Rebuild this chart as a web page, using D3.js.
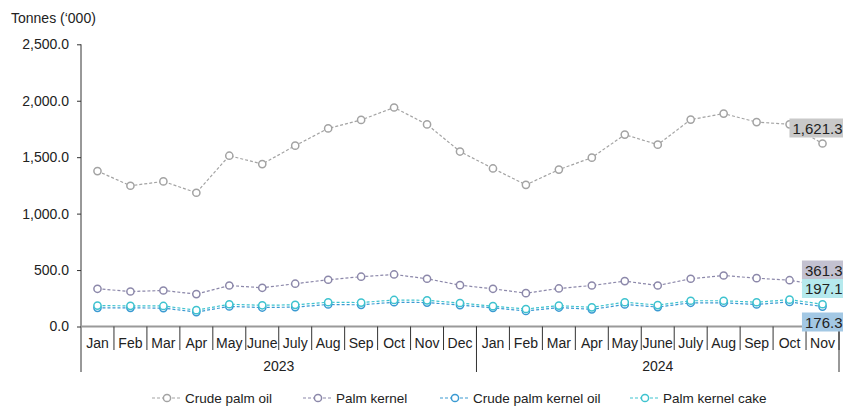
<!DOCTYPE html>
<html>
<head>
<meta charset="utf-8">
<script src="https://cdn.jsdelivr.net/npm/d3@7"></script>
<style>
  body { margin: 0; background: #fff; }
  svg { display: block; font-family: "Liberation Sans", Arial, sans-serif; }
</style>
</head>
<body>
<svg id="chart"></svg>
<script>
const months = ["Jan","Feb","Mar","Apr","May","June","July","Aug","Sep","Oct","Nov","Dec",
                "Jan","Feb","Mar","Apr","May","June","July","Aug","Sep","Oct","Nov"];
const years = [{ label: "2023", count: 12 }, { label: "2024", count: 11 }];
const yTicks = [0, 500, 1000, 1500, 2000, 2500];

const crudePalmOil = [1377,1247,1285,1185,1513,1439,1602,1755,1830,1940,1790,1550,
                      1400,1255,1390,1496,1700,1611,1833,1886,1811,1791,1621.3];
const palmKernel = [334,310,319,287,363,343,379,414,441,461,423,366,
                    334,295,337,363,402,363,423,452,428,410,361.3];
const crudePalmKernelOil = [165,165,163,128,178,168,172,195,192,215,212,190,
                            165,138,168,152,195,172,210,210,195,218,176.3];
const palmKernelCake = [185,183,182,145,197,188,192,215,212,235,232,208,
                        180,155,185,170,215,190,228,228,215,238,197.1];

const series = [
  { name: "Crude palm oil", values: crudePalmOil, color: "#a3a3a3", box: "#c9c9c9", labelY: 128 },
  { name: "Palm kernel", values: palmKernel, color: "#8c88aa", box: "#c3c1d0", labelY: 270 },
  { name: "Crude palm kernel oil", values: crudePalmKernelOil, color: "#3a9ad2", box: "#a3c8e4", labelY: 322 },
  { name: "Palm kernel cake", values: palmKernelCake, color: "#3ec3cf", box: "#b5e9ed", labelY: 288.5 }
];

const width = 843, height = 406;
const margin = { left: 81 };
const svg = d3.select("#chart").attr("width", width).attr("height", height);

const x = d3.scaleBand()
  .domain(d3.range(months.length))
  .range([margin.left, 839]);
const y = d3.scaleLinear()
  .domain([0, 2500])
  .range([326.5, 44.3]);

// y axis
svg.append("text")
  .attr("x", 11).attr("y", 23)
  .attr("font-size", 14).attr("fill", "#222")
  .text("Tonnes (\u2018000)");

const yAxis = svg.append("g")
  .attr("transform", `translate(${margin.left},0)`)
  .call(d3.axisLeft(y).tickValues(yTicks).tickSize(4).tickPadding(8)
    .tickFormat(d3.format(",.1f")));
yAxis.select(".domain").remove();
yAxis.selectAll(".tick line").attr("stroke", "#333");
yAxis.selectAll("text").attr("font-size", 14).attr("fill", "#222")
  .attr("font-family", "Liberation Sans, Arial, sans-serif");
svg.append("line")
  .attr("x1", margin.left).attr("x2", margin.left)
  .attr("y1", y(2500)).attr("y2", 372)
  .attr("stroke", "#333");

// x axis (month + year levels)
svg.append("line")
  .attr("x1", margin.left).attr("x2", x.range()[1])
  .attr("y1", y(0)).attr("y2", y(0))
  .attr("stroke", "#9a9a9a").attr("stroke-width", 2);

const xg = svg.append("g");
xg.selectAll("line.sep")
  .data(d3.range(1, months.length + 1))
  .join("line")
  .attr("class", "sep")
  .attr("x1", i => x(i - 1) + x.bandwidth())
  .attr("x2", i => x(i - 1) + x.bandwidth())
  .attr("y1", y(0)).attr("y2", 350)
  .attr("stroke", "#333");
xg.selectAll("text.month")
  .data(months)
  .join("text")
  .attr("class", "month")
  .attr("x", (d, i) => x(i) + x.bandwidth() / 2)
  .attr("y", 348)
  .attr("text-anchor", "middle")
  .attr("font-size", 14).attr("fill", "#222")
  .text(d => d);

let start = 0;
years.forEach(yr => {
  const x0 = x(start), x1 = x(start + yr.count - 1) + x.bandwidth();
  xg.append("line")
    .attr("x1", x1).attr("x2", x1)
    .attr("y1", y(0)).attr("y2", 372)
    .attr("stroke", "#333");
  xg.append("text")
    .attr("x", (x0 + x1) / 2).attr("y", 371)
    .attr("text-anchor", "middle")
    .attr("font-size", 14).attr("fill", "#222")
    .text(yr.label);
  start += yr.count;
});

// lines
const line = d3.line()
  .x((d, i) => x(i) + x.bandwidth() / 2)
  .y(d => y(d));

series.forEach(s => {
  const g = svg.append("g");
  g.append("path")
    .datum(s.values)
    .attr("fill", "none")
    .attr("stroke", s.color)
    .attr("stroke-width", 1.2)
    .attr("stroke-dasharray", "3,2")
    .attr("d", line);
  g.selectAll("circle")
    .data(s.values)
    .join("circle")
    .attr("cx", (d, i) => x(i) + x.bandwidth() / 2)
    .attr("cy", d => y(d))
    .attr("r", 3.6)
    .attr("fill", "#fff")
    .attr("stroke", s.color)
    .attr("stroke-width", 1.5);
});

// end labels
const fmt = d3.format(",.1f");
series.forEach(s => {
  const v = s.values[s.values.length - 1];
  const rect = svg.append("rect");
  const txt = svg.append("text")
    .attr("y", s.labelY + 5.5)
    .attr("font-size", 15).attr("fill", "#222")
    .text(fmt(v));
  const w = txt.node().getComputedTextLength();
  const tx = 842.5 - w;
  txt.attr("x", tx);
  rect.attr("x", tx - 3).attr("y", s.labelY - 9.5)
    .attr("width", w + 6).attr("height", 19)
    .attr("fill", s.box);
});

// legend
const legendX = [152, 303, 440, 630];
const lg = svg.append("g").attr("transform", "translate(0,398)");
series.forEach((s, k) => {
  const g = lg.append("g").attr("transform", `translate(${legendX[k]},0)`);
  g.append("line")
    .attr("x1", 0).attr("x2", 30).attr("y1", 0).attr("y2", 0)
    .attr("stroke", s.color).attr("stroke-dasharray", "3,2").attr("stroke-width", 1.2);
  g.append("circle")
    .attr("cx", 15).attr("cy", 0).attr("r", 3.6)
    .attr("fill", "#fff").attr("stroke", s.color).attr("stroke-width", 1.5);
  g.append("text")
    .attr("x", 33).attr("y", 4.5)
    .attr("font-size", 13.5).attr("fill", "#222")
    .text(s.name);
});
</script>
</body>
</html>
